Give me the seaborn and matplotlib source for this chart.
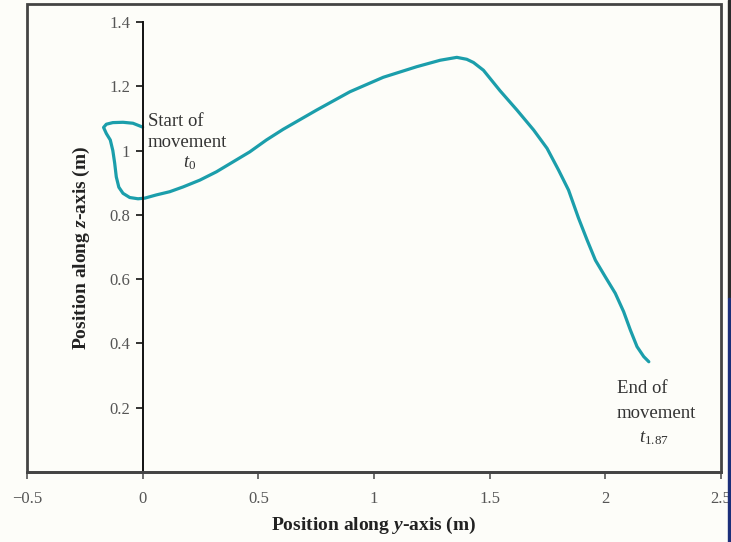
import matplotlib
matplotlib.use("Agg")
import matplotlib.pyplot as plt
from matplotlib.patches import Rectangle
import seaborn as sns
import pandas as pd

# Trajectory data (position along y-axis, position along z-axis), in metres
y_pos = [0.000, -0.042, -0.085, -0.129, -0.157, -0.169, -0.157, -0.140, -0.129, -0.121,
         -0.114, -0.103, -0.085, -0.056, -0.020, 0.009, 0.059, 0.117, 0.175, 0.247,
         0.319, 0.391, 0.463, 0.535, 0.607, 0.752, 0.896, 1.040, 1.185, 1.286, 1.358,
         1.401, 1.430, 1.473, 1.545, 1.618, 1.690, 1.748, 1.798, 1.841, 1.884, 1.921,
         1.957, 2.000, 2.043, 2.079, 2.108, 2.137, 2.166, 2.188]
z_pos = [1.073, 1.085, 1.088, 1.087, 1.082, 1.072, 1.053, 1.033, 1.000, 0.961,
         0.918, 0.886, 0.867, 0.854, 0.850, 0.852, 0.862, 0.872, 0.887, 0.908,
         0.934, 0.965, 0.996, 1.033, 1.066, 1.126, 1.183, 1.228, 1.261, 1.281, 1.290,
         1.284, 1.274, 1.250, 1.186, 1.126, 1.064, 1.007, 0.939, 0.877, 0.790, 0.722,
         0.659, 0.607, 0.556, 0.499, 0.442, 0.390, 0.359, 0.343]

x_ticks = [-0.5, 0, 0.5, 1, 1.5, 2, 2.5]
x_tick_labels = ["\u22120.5", "0", "0.5", "1", "1.5", "2", "2.5"]
y_ticks = [0.2, 0.4, 0.6, 0.8, 1.0, 1.2, 1.4]
y_tick_labels = ["0.2", "0.4", "0.6", "0.8", "1", "1.2", "1.4"]

sns.set_theme(style="white")
plt.rcParams["font.family"] = ["Liberation Serif", "DejaVu Serif"]
plt.rcParams["mathtext.fontset"] = "custom"
plt.rcParams["mathtext.rm"] = "Liberation Serif"
plt.rcParams["mathtext.it"] = "Liberation Serif:italic"
plt.rcParams["mathtext.bf"] = "Liberation Serif:bold"
plt.rcParams["mathtext.bfit"] = "Liberation Serif:bold:italic"

bg = "#fdfdf9"
fig = plt.figure(figsize=(7.31, 5.42), dpi=100, facecolor=bg)
ax = fig.add_axes([27 / 731, 70 / 542, 694 / 731, 468 / 542], facecolor=bg)

df = pd.DataFrame({"y": y_pos, "z": z_pos})
sns.lineplot(data=df, x="y", y="z", sort=False, estimator=None, ax=ax,
             color="#1b9eab", linewidth=2.3, solid_joinstyle="round",
             solid_capstyle="round")

ax.set_xlim(-0.5, 2.5)
ax.set_ylim(0, 1.456)

# Spines: left spine moved to x=0, full frame drawn as a rectangle
for s in ["top", "right"]:
    ax.spines[s].set_visible(False)
ax.spines["left"].set_position(("data", 0))
ax.spines["left"].set_bounds(0, 1.4)
ax.spines["left"].set_color("#111111")
ax.spines["left"].set_linewidth(1.4)
ax.spines["bottom"].set_color("#444444")
ax.spines["bottom"].set_linewidth(2.0)
ax.add_patch(Rectangle((0, 0), 1, 1, transform=ax.transAxes, fill=False,
                       lw=2.0, ec="#444444", clip_on=False, zorder=5))

ax.set_xticks(x_ticks)
ax.set_xticklabels(x_tick_labels)
ax.set_yticks(y_ticks)
ax.set_yticklabels(y_tick_labels)
ax.tick_params(axis="both", which="both", direction="out", length=5, width=1.2,
               labelcolor="#555555", labelsize=12, bottom=True, left=True)
ax.tick_params(axis="x", pad=9, color="#555555")
ax.tick_params(axis="y", pad=4, color="#111111")

ax.set_xlabel(r"Position along $\boldsymbol{y}$-axis (m)", fontsize=14,
              fontweight="bold", color="#222222")
ax.set_ylabel(r"Position along $\boldsymbol{z}$-axis (m)", fontsize=14,
              fontweight="bold", color="#222222")
ax.xaxis.set_label_coords(0.5, -0.092)
ax.yaxis.set_label_coords(0.094, 0.48)

txt = dict(fontsize=13.5, color="#333333", va="center")
ax.text(0.022, 1.09, "Start of", ha="left", **txt)
ax.text(0.022, 1.025, "movement", ha="left", **txt)
ax.text(0.205, 0.96, "$t_0$", ha="center", **txt)
ax.text(2.05, 0.26, "End of", ha="left", **txt)
ax.text(2.05, 0.182, "movement", ha="left", **txt)
ax.text(2.21, 0.105, "$t_{1.87}$", ha="center", **txt)

# dark strip at the right edge of the image
fig.patches.append(Rectangle((728 / 731, 0.45), 3 / 731, 0.55, transform=fig.transFigure,
                             color="#2b2b2b", zorder=0))
fig.patches.append(Rectangle((728 / 731, 0.0), 3 / 731, 0.45, transform=fig.transFigure,
                             color="#1c2f7a", zorder=0))

fig.savefig("out.png", dpi=100, facecolor=bg)
